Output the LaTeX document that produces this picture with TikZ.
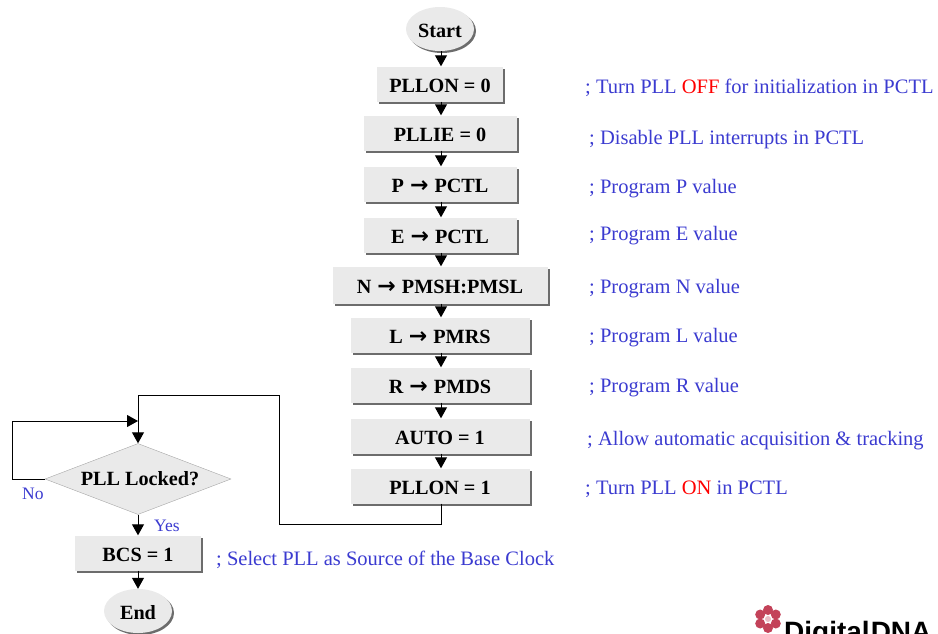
\documentclass[tikz,border=0pt]{standalone}
\usepackage{fontspec}
\setmainfont{Liberation Serif}
\newfontfamily\logofont{Liberation Sans}
\newfontfamily\arrfont{DejaVu Sans}
\newcommand{\flowarr}{\kern1pt{\arrfont\fontsize{22}{20}\selectfont\bfseries →}\kern1pt}
\usetikzlibrary{arrows.meta,shapes.geometric,shadows}
\definecolor{boxfill}{HTML}{EAEAEA}
\definecolor{noteblue}{HTML}{3B3BD0}
\definecolor{logored}{HTML}{B8203C}
\tikzset{
  x=1pt,y=-1pt,
  shade1/.style={drop shadow={shadow xshift=2pt,shadow yshift=-2pt,fill=gray!85!black,opacity=1}},
  flowbox/.style={rectangle,fill=boxfill,shade1,minimum height=35pt,inner sep=0pt,text height=16pt,text depth=0pt,font=\fontsize{20.2}{20}\selectfont\bfseries},
  term/.style={ellipse,fill=boxfill,shade1,minimum width=68pt,minimum height=44pt,inner sep=0pt,text height=16pt,text depth=0pt,font=\fontsize{20.2}{20}\selectfont\bfseries},
  decide/.style={diamond,fill=boxfill,draw=gray!70,aspect=2.6,minimum width=186pt,minimum height=71pt,inner sep=0pt,font=\fontsize{20.2}{20}\selectfont\bfseries},
  note/.style={anchor=base west,inner sep=0pt,text=noteblue,font=\fontsize{20.5}{20}\selectfont},
  small note/.style={note,font=\fontsize{17.5}{17}\selectfont},
  flow/.style={draw=black,line width=1pt,-{Triangle[width=12pt,length=11pt]}},
  plain/.style={draw=black,line width=1pt},
}
\begin{document}
\begin{tikzpicture}
\useasboundingbox (0,0) rectangle (938,633);
\node[term] (start) at (440,29) {Start};
\node[flowbox,minimum width=126pt] (b1) at (440,84) {PLLON = 0};
\node[flowbox,minimum width=153pt] (b2) at (440,133) {PLLIE = 0};
\node[flowbox,minimum width=153pt] (b3) at (440,184) {P \flowarr\ PCTL};
\node[flowbox,minimum width=153pt] (b4) at (440,235) {E \flowarr\ PCTL};
\node[flowbox,minimum width=215pt,minimum height=37pt] (b5) at (440,285) {N \flowarr\ PMSH:PMSL};
\node[flowbox,minimum width=179pt] (b6) at (440,335) {L \flowarr\ PMRS};
\node[flowbox,minimum width=179pt] (b7) at (440,385) {R \flowarr\ PMDS};
\node[flowbox,minimum width=179pt] (b8) at (440,436) {AUTO = 1};
\node[flowbox,minimum width=179pt] (b9) at (440,486) {PLLON = 1};
\node[decide] (d) at (138,479) {\kern4pt PLL Locked?};
\node[flowbox,minimum width=126pt] (bcs) at (138,553) {BCS = 1};
\node[term] (end) at (138,611) {End};

\foreach \a/\b in {start/b1,b1/b2,b2/b3,b3/b4,b4/b5,b5/b6,b6/b7,b7/b8,b8/b9}
  \draw[flow] ([xshift=1pt]\a.south) -- ([xshift=1pt]\b.north);
\draw[flow] (bcs.south) -- (end.north);
\draw[flow] (d.south) -- (bcs.north);

\coordinate (c1) at (441,524);
\coordinate (c2) at (279,524);
\coordinate (c3) at (279,395);
\coordinate (c4) at (138,395);
\coordinate (c5) at (138,421);
\coordinate (c6) at (12,479);
\coordinate (c7) at (12,421);
\draw[plain] ([xshift=1pt]b9.south) -- (c1) -- (c2) -- (c3) -- (c4) -- (c5);
\draw[flow] (c5) -- (d.north);
\draw[flow] (d.west) -- (c6) -- (c7) -- (c5);

\node[note] (n1) at (585,93) {; Turn PLL \textcolor{red}{OFF} for initialization in PCTL};
\node[note] (n2) at (589,144) {; Disable PLL interrupts in PCTL};
\node[note] (n3) at (589,193) {; Program P value};
\node[note] (n4) at (589,240) {; Program E value};
\node[note] (n5) at (589,293) {; Program N value};
\node[note] (n6) at (589,342) {; Program L value};
\node[note] (n7) at (589,392) {; Program R value};
\node[note] (n8) at (587,445) {; Allow automatic acquisition \& tracking};
\node[note] (n9) at (585,494) {; Turn PLL \textcolor{red}{ON} in PCTL};
\node[note] (n10) at (216,565) {; Select PLL as Source of the Base Clock};
\node[small note] (no) at (22,499) {No};
\node[small note] (yes) at (154,531) {Yes};

\begin{scope}
\clip (720,590) rectangle (938,633);
\foreach \ang in {0,60,...,300}
  \fill[logored!85] (768,619) ++(\ang+90:9) ellipse [x radius=5,y radius=5];
\fill[white!70!logored] (768,619) circle (3);
\node[anchor=base west,inner sep=0pt,font=\logofont\fontsize{28}{28}\selectfont\bfseries] (logo) at (784,641) {Digital\kern1pt DNA};
\end{scope}
\end{tikzpicture}
\end{document}
